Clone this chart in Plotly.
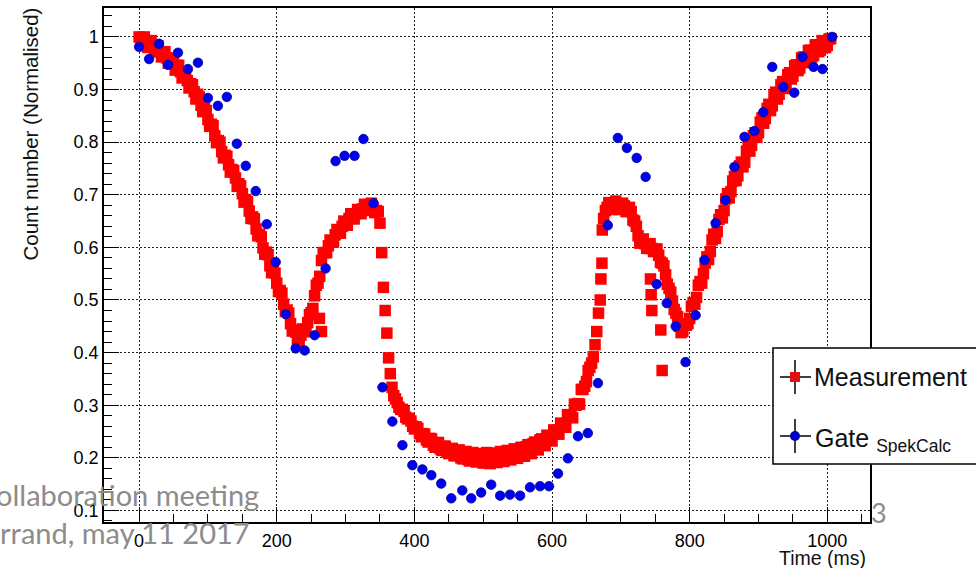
import plotly.graph_objects as go

# Measurement (red squares): read on a 5 ms grid ...
meas_t = list(range(0, 1010, 5))
meas_y = [
    1.000, 0.995, 0.990, 0.989, 0.982, 0.980, 0.972, 0.969, 0.960, 0.958,
    0.950, 0.946, 0.934, 0.931, 0.917, 0.911, 0.896, 0.891, 0.870, 0.864,
    0.843, 0.834, 0.812, 0.803, 0.782, 0.775, 0.757, 0.748, 0.732, 0.721,
    0.702, 0.691, 0.669, 0.658, 0.635, 0.625, 0.599, 0.591, 0.565, 0.555,
    0.532, 0.518, 0.492, 0.481, 0.455, 0.443, 0.422, 0.433, 0.440, 0.457,
    0.476, 0.508, 0.532, 0.575, 0.590, 0.603, 0.610, 0.624, 0.628, 0.640,
    0.643, 0.655, 0.658, 0.664, 0.666, 0.673, 0.672, 0.680, 0.675, 0.670,
    0.646, 0.524, 0.437, 0.360, 0.318, 0.305, 0.292, 0.288, 0.274, 0.270,
    0.255, 0.256, 0.240, 0.245, 0.230, 0.236, 0.220, 0.229, 0.214, 0.222,
    0.208, 0.218, 0.204, 0.215, 0.198, 0.212, 0.194, 0.210, 0.192, 0.208,
    0.190, 0.210, 0.189, 0.209, 0.191, 0.212, 0.193, 0.214, 0.196, 0.217,
    0.199, 0.220, 0.203, 0.225, 0.208, 0.230, 0.215, 0.236, 0.223, 0.242,
    0.232, 0.252, 0.245, 0.264, 0.258, 0.280, 0.276, 0.300, 0.302, 0.330,
    0.345, 0.372, 0.392, 0.440, 0.500, 0.655, 0.676, 0.682, 0.678, 0.683,
    0.674, 0.679, 0.671, 0.668, 0.650, 0.622, 0.612, 0.607, 0.603, 0.598,
    0.596, 0.585, 0.570, 0.548, 0.522, 0.498, 0.475, 0.450, 0.440, 0.452,
    0.465, 0.495, 0.505, 0.535, 0.550, 0.582, 0.592, 0.625, 0.630, 0.662,
    0.670, 0.702, 0.706, 0.735, 0.736, 0.762, 0.762, 0.792, 0.794, 0.818,
    0.818, 0.846, 0.845, 0.872, 0.869, 0.895, 0.891, 0.915, 0.908, 0.932,
    0.925, 0.947, 0.941, 0.962, 0.955, 0.975, 0.965, 0.985, 0.975, 0.992,
    0.984, 0.997,
]
# ... and the samples in between (2.5 ms offset)
meas_t_mid = [t + 2.5 for t in range(0, 1005, 5)]
meas_y_mid = [
    0.989, 1.000, 0.980, 0.993, 0.972, 0.983, 0.962, 0.972, 0.950, 0.960,
    0.937, 0.946, 0.922, 0.929, 0.903, 0.909, 0.882, 0.886, 0.858, 0.860,
    0.830, 0.831, 0.799, 0.800, 0.770, 0.773, 0.743, 0.746, 0.716, 0.717,
    0.686, 0.687, 0.655, 0.654, 0.622, 0.620, 0.587, 0.586, 0.552, 0.551,
    0.516, 0.513, 0.478, 0.475, 0.441, 0.439,
    0.418, 0.445, 0.440, 0.472, 0.484, 0.528, 0.545, 0.590, 0.590, 0.614,
    0.610, 0.634, 0.627, 0.650, 0.642, 0.664, 0.654, 0.672, 0.664, 0.682,
    0.670, 0.684, 0.666, 0.668,
    0.590, 0.480, 0.390, 0.334,
    0.312, 0.296, 0.292, 0.277, 0.275, 0.260, 0.259, 0.246, 0.246, 0.234,
    0.237, 0.224, 0.229, 0.217, 0.222, 0.211, 0.217, 0.204, 0.214, 0.200,
    0.211, 0.197, 0.208, 0.195, 0.207, 0.194, 0.206, 0.194, 0.206, 0.195,
    0.207, 0.196, 0.209, 0.199, 0.212, 0.203, 0.216, 0.207, 0.221, 0.212,
    0.227, 0.218, 0.234, 0.226, 0.243, 0.235, 0.253, 0.246, 0.266, 0.260,
    0.282, 0.279, 0.302, 0.303, 0.330, 0.336, 0.366, 0.380, 0.415,
    0.475, 0.570, 0.670, 0.685, 0.672, 0.688, 0.672, 0.684, 0.668, 0.676,
    0.652, 0.640, 0.608, 0.616, 0.598, 0.607, 0.592, 0.597, 0.572, 0.565,
    0.530, 0.515, 0.482, 0.468, 0.438, 0.452, 0.455, 0.488, 0.492, 0.528,
    0.532, 0.570, 0.577, 0.614, 0.617, 0.653, 0.656, 0.692, 0.694, 0.726,
    0.727, 0.755, 0.753, 0.783, 0.783, 0.812, 0.809, 0.838, 0.836, 0.864,
    0.860, 0.888, 0.882, 0.909, 0.902, 0.928, 0.920, 0.945, 0.936, 0.960,
    0.951, 0.974, 0.962, 0.985, 0.972, 0.993, 0.980, 0.996,
]
# isolated measurement points off the main band
meas_extra_t = [262, 265, 671, 673, 743, 744, 745, 758, 760]
meas_extra_y = [0.465, 0.440, 0.540, 0.633, 0.540, 0.510, 0.480, 0.443, 0.366]

assert len(meas_t) == len(meas_y)
assert len(meas_t_mid) == len(meas_y_mid)

# Gate (SpekCalc) blue circles
gate_t = [0, 14.5, 29, 42, 56.5, 71, 85.5, 100, 114.5, 127.5,
          142, 155, 169.5, 185.5, 198.5, 213, 227.5, 240.6, 255, 271,
          285.5, 298.5, 313, 326, 340.6, 353.6, 368, 382.6, 397, 411.6,
          424.6, 439, 453.6, 469.6, 482.6, 497, 511.6, 524.6, 539, 553.6,
          568, 582.6, 595.6, 608.7, 623, 637.7, 652, 666.7, 681, 695.6,
          708.7, 723, 736, 752, 766.7, 779.7, 794, 808.7, 821.7, 837.7,
          852, 865, 879.7, 894, 907, 920, 936, 952, 964, 980,
          993, 1007]
gate_y = [0.981, 0.958, 0.987, 0.947, 0.970, 0.939, 0.951, 0.884, 0.869, 0.886,
          0.797, 0.755, 0.707, 0.644, 0.572, 0.473, 0.408, 0.404, 0.433, 0.560,
          0.764, 0.774, 0.774, 0.806, 0.684, 0.334, 0.269, 0.224, 0.186, 0.178,
          0.167, 0.151, 0.123, 0.138, 0.123, 0.134, 0.149, 0.128, 0.130, 0.128,
          0.144, 0.146, 0.146, 0.170, 0.199, 0.241, 0.247, 0.342, 0.642, 0.808,
          0.789, 0.770, 0.734, 0.530, 0.494, 0.450, 0.382, 0.471, 0.576, 0.646,
          0.690, 0.753, 0.810, 0.821, 0.857, 0.943, 0.905, 0.894, 0.962, 0.943,
          0.939, 1.000]

x_ticks = [0, 200, 400, 600, 800, 1000]

W, H = 976, 568
L, R, T, B = 104, 106, 8, 46


def px_x(p):
    return (p - L) / (W - L - R)


def px_y(p):
    return (H - B - p) / (H - T - B)


font = "Liberation Sans, Arial, sans-serif"
slide_font = "Lato, Open Sans, sans-serif"

fig = go.Figure()
fig.add_trace(go.Scatter(x=meas_t + meas_t_mid + meas_extra_t,
                         y=meas_y + meas_y_mid + meas_extra_y, mode="markers",
                         marker=dict(symbol="square", size=11.5, color="#ff0000", line=dict(width=0)),
                         name="Measurement", showlegend=False))
fig.add_trace(go.Scatter(x=gate_t, y=gate_y, mode="markers",
                         marker=dict(symbol="circle", size=9.5, color="#0000f0",
                                     line=dict(width=0.8, color="#00009a")),
                         name="Gate SpekCalc", showlegend=False))

axis_common = dict(showline=True, mirror=True, linecolor="black", linewidth=1.5,
                   ticks="inside", ticklen=15, tickwidth=1.2, tickcolor="black",
                   showgrid=True, gridcolor="#222222", gridwidth=1, griddash="1.5px,2.5px",
                   zeroline=False, tickfont=dict(family=font, size=18, color="black"))

fig.update_xaxes(range=[-51, 1062], tickvals=x_ticks, ticklabelstandoff=2,
                 minor=dict(dtick=50, tick0=0, ticklen=8, ticks="inside", tickcolor="black",
                            showgrid=False),
                 **axis_common)
fig.update_yaxes(range=[0.078, 1.055], tick0=0, dtick=0.1, ticklabelstandoff=0,
                 minor=dict(dtick=0.02, tick0=0, ticklen=8, ticks="inside", tickcolor="black",
                            showgrid=False),
                 **axis_common)

shapes = []
# legend box (ROOT style, drawn by hand)
shapes.append(dict(type="rect", xref="paper", yref="paper", layer="above",
                   x0=px_x(773), x1=px_x(995), y0=px_y(348), y1=px_y(464),
                   fillcolor="white", line=dict(color="black", width=1.5)))
for cy, sym, col in [(377, "rect", "#dd1111"), (436, "circle", "#0000c0")]:
    shapes.append(dict(type="line", xref="paper", yref="paper", layer="above",
                       x0=px_x(780), x1=px_x(811), y0=px_y(cy), y1=px_y(cy),
                       line=dict(color="black", width=1.5)))
    shapes.append(dict(type="line", xref="paper", yref="paper", layer="above",
                       x0=px_x(795), x1=px_x(795), y0=px_y(cy - 17), y1=px_y(cy + 17),
                       line=dict(color="black", width=1.5)))
    shapes.append(dict(type=sym, xref="paper", yref="paper", layer="above",
                       x0=px_x(790), x1=px_x(800), y0=px_y(cy - 5), y1=px_y(cy + 5),
                       fillcolor=col, line=dict(width=0)))

annotations = [
    dict(text="Measurement", x=px_x(812), y=px_y(377), xanchor="left", yanchor="middle",
         font=dict(family=font, size=25, color="#111111")),
    dict(text="Gate <sub>SpekCalc</sub>", x=px_x(813), y=px_y(440), xanchor="left", yanchor="middle",
         font=dict(family=font, size=25, color="#111111")),
    dict(text="Count number (Normalised)", textangle=-90, x=px_x(30), y=px_y(6),
         xanchor="center", yanchor="top", font=dict(family=font, size=20.5, color="#111111")),
    dict(text="Time (ms)", x=px_x(868), y=px_y(558), xanchor="right", yanchor="middle",
         font=dict(family=font, size=19.5, color="#111111")),
    # slide footer showing through
    dict(text="ollaboration meeting", x=px_x(-6), y=px_y(494), xanchor="left", yanchor="middle",
         font=dict(family=slide_font, size=29, color="#8c8c8c")),
    dict(text="rrand, may 11 2017", x=px_x(-2), y=px_y(532), xanchor="left", yanchor="middle",
         font=dict(family=slide_font, size=29, color="#8c8c8c")),
    dict(text="3", x=px_x(879), y=px_y(512), xanchor="center", yanchor="middle",
         font=dict(family=slide_font, size=27, color="#8c8c8c")),
]
for a in annotations:
    a.update(xref="paper", yref="paper", showarrow=False)

fig.update_layout(width=W, height=H, margin=dict(l=L, r=R, t=T, b=B, autoexpand=False),
                  plot_bgcolor="white", paper_bgcolor="white",
                  shapes=shapes, annotations=annotations, showlegend=False)

fig.write_html("out.html", config={"displayModeBar": False},
               post_script="document.body.style.margin='0';")
